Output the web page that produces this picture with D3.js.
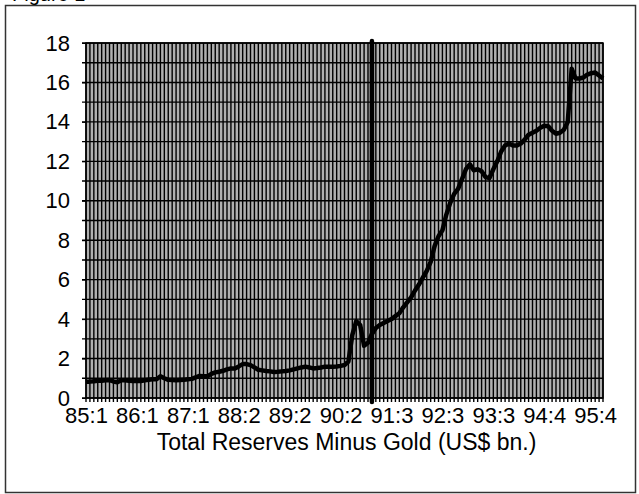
<!DOCTYPE html>
<html>
<head>
<meta charset="utf-8">
<script src="https://cdn.jsdelivr.net/npm/d3@7"></script>
<style>
  body { margin: 0; background: #fff; }
  text { font-family: "Liberation Sans", Arial, sans-serif; }
</style>
</head>
<body>
<svg id="chart" width="639" height="494"></svg>
<script>
// one value per category tick (13 ticks between labelled categories)
const values = [
  0.82, 0.83, 0.85, 0.87, 0.88, 0.90, 0.91, 0.84, 0.80, 0.90,
  0.90, 0.87, 0.86, 0.86, 0.86, 0.90, 0.93, 0.95, 0.95, 1.10,
  1.00, 0.92, 0.91, 0.90, 0.91, 0.92, 0.95, 0.97, 1.05, 1.12,
  1.10, 1.10, 1.22, 1.30, 1.33, 1.38, 1.45, 1.50, 1.50, 1.60,
  1.72, 1.72, 1.67, 1.55, 1.43, 1.40, 1.37, 1.35, 1.32, 1.33,
  1.35, 1.37, 1.40, 1.45, 1.50, 1.55, 1.59, 1.55, 1.50, 1.52,
  1.55, 1.59, 1.59, 1.59, 1.60, 1.63, 1.67, 1.85, 3.20, 3.90,
  3.70, 2.65, 2.80, 3.25, 3.55, 3.70, 3.80, 3.90, 4.00, 4.15,
  4.30, 4.60, 4.85, 5.10, 5.45, 5.75, 6.10, 6.45, 6.90, 7.70,
  8.20, 8.50, 9.30, 9.90, 10.35, 10.60, 11.10, 11.60, 11.85, 11.55,
  11.60, 11.50, 11.20, 11.15, 11.60, 12.00, 12.50, 12.80, 12.90, 12.80,
  12.80, 12.90, 13.10, 13.35, 13.45, 13.55, 13.70, 13.80, 13.78, 13.55,
  13.40, 13.45, 13.60, 14.00, 16.70, 16.20, 16.20, 16.25, 16.40, 16.47,
  16.50, 16.35, 16.20
];
const tickLabels = ["85:1", "86:1", "87:1", "88:2", "89:2", "90:2", "91:3", "92:3", "93:3", "94:4", "95:4"];
const labelEvery = 13;
const yTicks = [0, 2, 4, 6, 8, 10, 12, 14, 16, 18];
const markerAt = 73; // thick vertical line
const title = "Total Reserves Minus Gold (US$ bn.)";

const svg = d3.select("#chart");
const pl = 86, pt = 43, pr = 603, pb = 398;

// outer frame
svg.append("rect")
  .attr("x", 5.5).attr("y", 5.5).attr("width", 630).attr("height", 487)
  .attr("fill", "none").attr("stroke", "#333").attr("stroke-width", 1.5);

svg.append("text")
  .attr("x", 12).attr("y", 1)
  .attr("font-size", 20)
  .text("Figure 1");

const x = d3.scaleLinear().domain([0, values.length - 1]).range([pl, pr]);
const y = d3.scaleLinear().domain([0, 18]).range([pb, pt]);

// plot area
svg.append("rect")
  .attr("x", pl).attr("y", pt).attr("width", pr - pl).attr("height", pb - pt)
  .attr("fill", "#b0b0b0");

const g = svg.append("g");

// vertical grid: one line per category tick
g.selectAll("line.vg")
  .data(d3.range(values.length))
  .join("line")
  .attr("class", "vg")
  .attr("x1", d => x(d)).attr("x2", d => x(d))
  .attr("y1", pt).attr("y2", pb + 4)
  .attr("stroke", "#000").attr("stroke-width", 1.4);

// horizontal grid: every unit
g.selectAll("line.hg")
  .data(d3.range(0, 19))
  .join("line")
  .attr("class", "hg")
  .attr("x1", pl - 4).attr("x2", pr)
  .attr("y1", d => y(d)).attr("y2", d => y(d))
  .attr("stroke", "#000").attr("stroke-width", 1.4);

svg.append("rect")
  .attr("x", pl).attr("y", pt).attr("width", pr - pl).attr("height", pb - pt)
  .attr("fill", "none").attr("stroke", "#000").attr("stroke-width", 1.5);

// y axis labels
const yAxis = svg.append("g")
  .attr("transform", `translate(${pl},0)`)
  .call(d3.axisLeft(y).tickValues(yTicks).tickSize(4).tickPadding(12));
yAxis.select(".domain").remove();
yAxis.selectAll("line").attr("stroke", "#000");
yAxis.selectAll("text").attr("font-size", 22).attr("fill", "#000")
  .attr("font-family", "Liberation Sans, Arial, sans-serif");

// x axis labels
const xAxis = svg.append("g")
  .attr("transform", `translate(0,${pb})`)
  .call(d3.axisBottom(x)
    .tickValues(d3.range(0, tickLabels.length).map(i => i * labelEvery))
    .tickSize(0).tickPadding(9)
    .tickFormat((d, i) => tickLabels[i]));
xAxis.select(".domain").remove();
xAxis.selectAll("text").attr("font-size", 22).attr("fill", "#000")
  .attr("font-family", "Liberation Sans, Arial, sans-serif");

// marker line
svg.append("line")
  .attr("x1", x(markerAt)).attr("x2", x(markerAt))
  .attr("y1", pt - 2).attr("y2", pb + 4)
  .attr("stroke", "#000").attr("stroke-width", 4.5)
  .attr("stroke-linecap", "round");

// series
const line = d3.line().x((d, i) => x(i)).y(d => y(d));
svg.append("path")
  .datum(values)
  .attr("d", line)
  .attr("fill", "none").attr("stroke", "#000")
  .attr("stroke-width", 4.5).attr("stroke-linejoin", "round");

svg.append("text")
  .attr("x", (pl + pr) / 2 + 2).attr("y", 450)
  .attr("text-anchor", "middle").attr("font-size", 23)
  .text(title);
</script>
</body>
</html>
